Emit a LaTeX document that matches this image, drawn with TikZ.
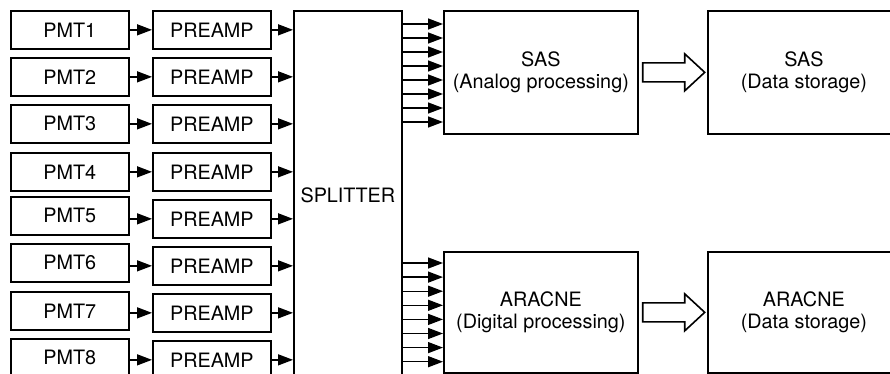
\documentclass[tikz,border=0pt]{standalone}
\usepackage{fontspec}
\setmainfont{TeX Gyre Heros}
\usetikzlibrary{arrows.meta,calc}
\begin{document}
\begin{tikzpicture}[x=1pt,y=-1pt,
  blk/.style={draw, line width=1.7pt, anchor=north west, inner sep=0pt,
    font=\fontsize{19.8}{22}\selectfont, align=center},
  small/.style={blk, minimum width=118pt, minimum height=38pt},
  conn/.style={line width=1.4pt, -{Triangle[length=15pt,width=11pt]}},
  fat/.style={draw, line width=1.6pt, line join=miter}
]
\clip (0,0) rectangle (890,374);
\fill[white] (0,0) rectangle (890,374);

\node[blk, minimum width=108pt, minimum height=368pt] (split) at (293,10) {SPLITTER};

\foreach \i/\a/\b in {1/10/10, 2/57/57, 3/104/104, 4/152/152, 5/196/199, 6/243/246, 7/291/293, 8/338/340} {
  \node[small] (pmt\i) at (10,\a) {PMT\i};
  \node[small] (pre\i) at (152,\b) {PREAMP};
  \draw[conn] (pre\i.west -| pmt\i.east) -- (pre\i.west);
  \draw[conn] (pre\i.east) -- (pre\i.east -| split.west);
}

\node[blk, minimum width=194pt, minimum height=123pt] (sasp) at (443,10) {SAS\\(Analog processing)};
\node[blk, minimum width=194pt, minimum height=121pt] (arap) at (443,251) {ARACNE\\(Digital processing)};
\node[blk, minimum width=192pt, minimum height=123pt] (sass) at (707,10) {SAS\\(Data storage)};
\node[blk, minimum width=192pt, minimum height=121pt] (aras) at (707,251) {ARACNE\\(Data storage)};

\foreach \k in {0,...,7} {
  \draw[conn] ([yshift={-(14+14*\k)*1pt}]sasp.north west -| split.east) -- ([yshift={-(14+14*\k)*1pt}]sasp.north west);
  \draw[conn] ([yshift={-(12+14.1*\k)*1pt}]arap.north west -| split.east) -- ([yshift={-(12+14.1*\k)*1pt}]arap.north west);
}

\foreach \p in {sasp, arap} {
  \draw[fat] ($(\p.east)+(4,-9.5)$) -- ++(42,0) -- ++(0,-9) -- ++(20,18.5) -- ++(-20,18.5) -- ++(0,-9) -- ++(-42,0) -- cycle;
}
\end{tikzpicture}
\end{document}
